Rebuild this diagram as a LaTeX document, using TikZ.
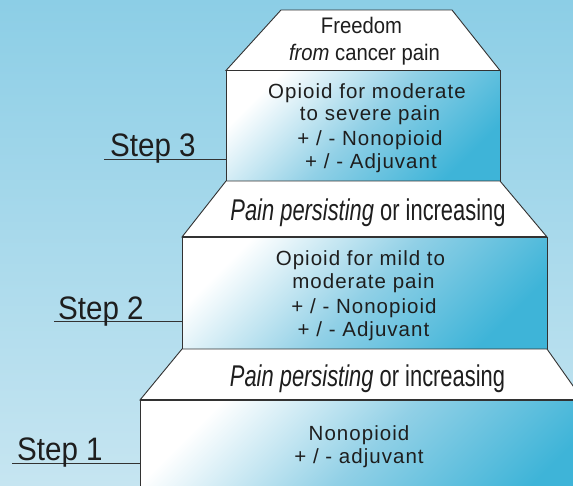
\documentclass[tikz,border=0pt]{standalone}
\usepackage{fontspec}
\setmainfont{Liberation Sans}
\newfontfamily\stepfont[FakeStretch=0.91]{Liberation Sans}
\newfontfamily\painfont[FakeStretch=0.73]{Liberation Sans}
\newfontfamily\boxfont[LetterSpace=5]{Liberation Sans}
\newfontfamily\freefont[FakeStretch=0.9]{Liberation Sans}
\definecolor{bgtop}{RGB}{140,206,230}
\definecolor{bgbot}{RGB}{198,229,241}
\definecolor{boxdeep}{RGB}{62,180,216}
\definecolor{boxmid}{RGB}{145,208,230}
\definecolor{ink}{RGB}{30,30,30}
\definecolor{edge}{RGB}{50,50,50}
\tikzset{
  boxfill/.style={shading=axis, top color=white, bottom color=boxdeep, middle color=boxmid, shading angle=45, draw=edge, line width=0.9pt},
  trap/.style={fill=white, draw=edge, line width=0.9pt},
  topedge/.style={draw=edge, line width=1.6pt},
  steplabel/.style={anchor=base west, inner sep=0pt, text=ink, font=\stepfont\fontsize{32.5}{36}\selectfont},
  stepline/.style={draw=edge, line width=0.8pt},
  boxtext/.style={anchor=base, inner sep=0pt, text=ink, font=\boxfont\fontsize{20.5}{22}\selectfont},
  paintext/.style={anchor=base, inner sep=0pt, text=ink, font=\painfont\fontsize{30}{32}\selectfont},
  freetext/.style={anchor=base, inner sep=0pt, text=ink, font=\freefont\fontsize{22.5}{26}\selectfont}
}
\begin{document}
\begin{tikzpicture}[x=1pt,y=-1pt]
\useasboundingbox (0,0) rectangle (573,485);
\clip (0,0) rectangle (573,485);
\shade[top color=bgtop, bottom color=bgbot] (0,0) rectangle (573,485);
% coordinates
\coordinate (t0a) at (281,10); \coordinate (t0b) at (452,10);
\coordinate (b3tl) at (226,70.5); \coordinate (b3tr) at (500,70.5);
\coordinate (b3bl) at (226,181); \coordinate (b3br) at (500,181);
\coordinate (b2tl) at (182,237); \coordinate (b2tr) at (547,237);
\coordinate (b2bl) at (182,349); \coordinate (b2br) at (547,349);
\coordinate (b1tl) at (140,400); \coordinate (b1tr) at (583,400);
\coordinate (b1bl) at (140,500); \coordinate (b1br) at (600,500);
% boxes
\path[boxfill] (b3tl) rectangle (b3br);
\path[boxfill] (b2tl) rectangle (b2br);
\path[boxfill] (b1tl) rectangle (b1br);
% trapezoids
\path[trap] (t0a) -- (t0b) -- (b3tr) -- (b3tl) -- cycle;
\path[trap] (b3bl) -- (b3br) -- (b2tr) -- (b2tl) -- cycle;
\path[trap] (b2bl) -- (b2br) -- (b1tr) -- (b1tl) -- cycle;
\draw[topedge] (b3tl) -- (b3tr);
\draw[topedge] (b2tl) -- (b2tr);
\draw[topedge] (b1tl) -- (b1tr);
% step labels and lines
\coordinate (l3) at (104,159); \coordinate (l3e) at (226,159);
\coordinate (l2) at (54,321.7); \coordinate (l2e) at (182,321.7);
\coordinate (l1) at (12,463.3); \coordinate (l1e) at (140,463.3);
\draw[stepline] (l3) -- (l3e);
\draw[stepline] (l2) -- (l2e);
\draw[stepline] (l1) -- (l1e);
\node[steplabel] (s3) at (110,156) {Step 3};
\node[steplabel] (s2) at (58,319) {Step 2};
\node[steplabel] (s1) at (17,460.5) {Step 1};
% top text
\node[freetext] (fr1) at (361.5,33.3) {Freedom};
\node[freetext] (fr2) at (364.5,60) {\itshape from\upshape{} cancer pain};
% box 3
\node[boxtext] (c3a) at (367,98.3) {Opioid for moderate};
\node[boxtext] (c3b) at (370,120.7) {to severe pain};
\node[boxtext] (c3c) at (370,145.5) {+ / - Nonopioid};
\node[boxtext] (c3d) at (371,168.3) {+ / - Adjuvant};
% pain texts
\node[paintext] (p1) at (368,220) {\itshape Pain persisting\upshape{} or increasing};
\node[paintext] (p2) at (367.5,386.7) {\itshape Pain persisting\upshape{} or increasing};
% box 2
\node[boxtext] (c2a) at (360.5,265) {Opioid for mild to};
\node[boxtext] (c2b) at (363.5,288.3) {moderate pain};
\node[boxtext] (c2c) at (364,313) {+ / - Nonopioid};
\node[boxtext] (c2d) at (363.5,336.7) {+ / - Adjuvant};
% box 1
\node[boxtext] (c1a) at (359,440) {Nonopioid};
\node[boxtext] (c1b) at (359,463) {+ / - adjuvant};
\end{tikzpicture}
\end{document}
